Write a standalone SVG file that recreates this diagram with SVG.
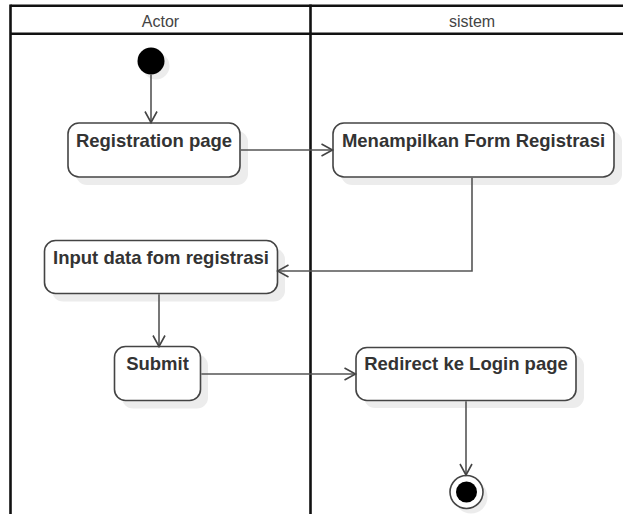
<svg xmlns="http://www.w3.org/2000/svg" width="623" height="514" viewBox="0 0 623 514">
  <style>
    .lane { fill: none; stroke: #111; stroke-width: 2.6; }
    .head { font-family: "Liberation Sans", Arial, sans-serif; font-size: 16px; fill: #444; text-anchor: middle; }
    .box { fill: #fff; stroke: #444; stroke-width: 1.6; }
    .shadow { fill: #ececec; }
    .label { font-family: "Liberation Sans", Arial, sans-serif; font-size: 18.5px; font-weight: bold; fill: #333; text-anchor: middle; }
    .edge { fill: none; stroke: #555; stroke-width: 1.6; }
  </style>
  <defs>
    <marker id="open" markerUnits="userSpaceOnUse" markerWidth="14" markerHeight="14" viewBox="0 0 14 14" refX="12" refY="7" orient="auto">
      <path d="M1,1 L12,7 L1,13" fill="none" stroke="#444" stroke-width="1.6"/>
    </marker>
  </defs>

  <rect width="623" height="514" fill="#fff"/>

  <!-- swimlanes -->
  <g id="lanes">
    <line class="lane" x1="10.5" y1="5.8" x2="623" y2="5.8"/>
    <line class="lane" x1="10.5" y1="33.8" x2="623" y2="33.8"/>
    <line class="lane" x1="10.5" y1="4.5" x2="10.5" y2="514"/>
    <line class="lane" x1="310.5" y1="4.5" x2="310.5" y2="514"/>
    <text class="head" x="160.5" y="26.5">Actor</text>
    <text class="head" x="472" y="26.5">sistem</text>
  </g>

  <!-- start -->
  <g id="start">
    <circle class="shadow" cx="156" cy="66" r="13.5"/>
    <circle cx="151" cy="61" r="13.5" fill="#000"/>
  </g>

  <g id="registration-page">
    <rect class="shadow" x="76" y="131" width="172" height="54" rx="11"/>
    <rect class="box" x="68" y="123" width="172" height="54" rx="11"/>
    <text class="label" x="154" y="146.5">Registration page</text>
  </g>

  <g id="menampilkan-form">
    <rect class="shadow" x="341" y="131" width="281" height="54" rx="11"/>
    <rect class="box" x="333" y="123" width="281" height="54" rx="11"/>
    <text class="label" x="473.5" y="146.5">Menampilkan Form Registrasi</text>
  </g>

  <g id="input-data">
    <rect class="shadow" x="52" y="248.5" width="233" height="53" rx="11"/>
    <rect class="box" x="44.5" y="240.5" width="233" height="53" rx="11"/>
    <text class="label" x="161" y="263.5">Input data fom registrasi</text>
  </g>

  <g id="submit">
    <rect class="shadow" x="122" y="354.5" width="86" height="54" rx="11"/>
    <rect class="box" x="114.5" y="346.5" width="86" height="54" rx="11"/>
    <text class="label" x="157.5" y="370">Submit</text>
  </g>

  <g id="redirect-login">
    <rect class="shadow" x="364" y="355" width="220" height="53" rx="11"/>
    <rect class="box" x="356" y="347.5" width="220" height="53" rx="11"/>
    <text class="label" x="466" y="370">Redirect ke Login page</text>
  </g>

  <!-- end -->
  <g id="end">
    <circle class="shadow" cx="471" cy="497" r="16.5"/>
    <circle cx="466.5" cy="492" r="16.5" fill="#fff" stroke="#444" stroke-width="1.6"/>
    <circle cx="466.5" cy="492" r="10.5" fill="#000"/>
  </g>

  <!-- connectors, drawn over the node shadows -->
  <g id="connectors">
    <line class="edge" x1="151" y1="74.5" x2="151" y2="122.5" marker-end="url(#open)"/>
    <line class="edge" x1="240.8" y1="150" x2="332.5" y2="150" marker-end="url(#open)"/>
    <polyline class="edge" points="472,177.8 472,271 277.5,271" marker-end="url(#open)"/>
    <line class="edge" x1="159" y1="294.3" x2="159" y2="346.5" marker-end="url(#open)"/>
    <line class="edge" x1="201.3" y1="374" x2="355.5" y2="374" marker-end="url(#open)"/>
    <line class="edge" x1="466" y1="401.3" x2="466" y2="475" marker-end="url(#open)"/>
  </g>
</svg>
